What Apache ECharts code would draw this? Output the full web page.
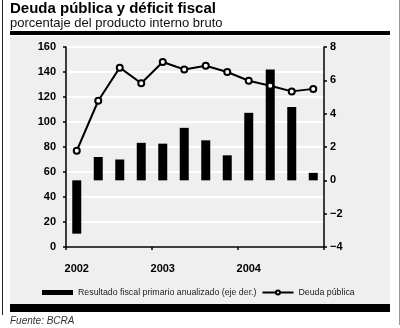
<!DOCTYPE html>
<html>
<head>
<meta charset="utf-8">
<script src="https://cdn.jsdelivr.net/npm/echarts@6/dist/echarts.min.js"></script>
<style>
html,body{margin:0;padding:0;background:#fff;}
#c{width:400px;height:328px;}
</style>
</head>
<body>
<div id="c"></div>
<script>
var quarters = ['2002-I','2002-II','2002-III','2002-IV','2003-I','2003-II','2003-III','2003-IV','2004-I','2004-II','2004-III','2004-IV'];
var deudaPublica = [77, 117, 143.5, 131, 148, 142, 145, 140, 133, 129, 124.5, 126.5];
var resultadoFiscal = [-3.2, 1.4, 1.25, 2.25, 2.2, 3.15, 2.4, 1.5, 4.05, 6.65, 4.4, 0.45];
var leftTicks = {min: 0, max: 160, interval: 20};
var rightTicks = {min: -4, max: 8, interval: 2};

var FONT = '"Liberation Sans", Arial, Helvetica, sans-serif';
var chart = echarts.init(document.getElementById('c'), null, {renderer: 'canvas'});
chart.setOption({
  animation: false,
  textStyle: {fontFamily: FONT},
  title: {
    text: 'Deuda pública y déficit fiscal',
    subtext: 'porcentaje del producto interno bruto',
    left: 10, top: 1, padding: 0, itemGap: 1,
    textStyle: {fontFamily: FONT, fontSize: 15, fontWeight: 'bold', color: '#000'},
    subtextStyle: {fontFamily: FONT, fontSize: 13, color: '#111'}
  },
  graphic: [
    {type: 'rect', z: -10, shape: {x: 10, y: 36, width: 380, height: 268}, style: {fill: '#efefef'}, silent: true},
    {type: 'rect', shape: {x: 10, y: 31, width: 380, height: 4}, style: {fill: '#000'}, silent: true},
    {type: 'rect', shape: {x: 10, y: 304, width: 380, height: 8}, style: {fill: '#000'}, silent: true},
    {type: 'line', shape: {x1: 2.5, y1: 0, x2: 2.5, y2: 315}, style: {stroke: '#222', lineWidth: 1}, silent: true},
    {type: 'line', shape: {x1: 399.5, y1: 0, x2: 399.5, y2: 325}, style: {stroke: '#999', lineWidth: 1}, silent: true},
    {type: 'text', left: 10, top: 316, style: {text: 'Fuente: BCRA', font: 'italic 10px ' + FONT, fill: '#333'}, silent: true}
  ],
  legend: {
    left: 42, top: 288, padding: 0,
    itemWidth: 31, itemHeight: 5, itemGap: 5,
    textStyle: {fontFamily: FONT, fontSize: 8.8, color: '#222'},
    data: [
      {name: 'Resultado fiscal primario anualizado (eje der.)', icon: 'rect'},
      {name: 'Deuda pública'}
    ]
  },
  grid: {left: 66, right: 76, top: 47, bottom: 81},
  xAxis: {
    type: 'category',
    data: quarters,
    boundaryGap: true,
    axisLine: {show: true, lineStyle: {color: '#000', width: 1.5}},
    axisTick: {show: true, interval: 3, length: 3, lineStyle: {color: '#000', width: 1.5}},
    axisLabel: {
      interval: 3, margin: 16,
      fontFamily: FONT, fontSize: 11, fontWeight: 'bold', color: '#000',
      formatter: function (v) { return v.split('-')[0]; }
    },
    splitLine: {show: false}
  },
  yAxis: [
    {
      type: 'value', position: 'left',
      min: leftTicks.min, max: leftTicks.max, interval: leftTicks.interval,
      axisLine: {show: true, lineStyle: {color: '#000', width: 1.5}},
      axisTick: {show: true, length: 3, lineStyle: {color: '#000', width: 1.5}},
      axisLabel: {margin: 10, fontFamily: FONT, fontSize: 11, fontWeight: 'bold', color: '#000'},
      splitLine: {show: true, lineStyle: {color: '#fff', width: 2}}
    },
    {
      type: 'value', position: 'right',
      min: rightTicks.min, max: rightTicks.max, interval: rightTicks.interval,
      axisLine: {show: true, lineStyle: {color: '#000', width: 1.5}},
      axisTick: {show: true, length: 3, lineStyle: {color: '#000', width: 1.5}},
      axisLabel: {margin: 6, fontFamily: FONT, fontSize: 11, fontWeight: 'bold', color: '#000',
        formatter: function (v) { return String(v).replace('-', '\u2212'); }},
      splitLine: {show: false}
    }
  ],
  series: [
    {
      name: 'Resultado fiscal primario anualizado (eje der.)',
      type: 'bar', yAxisIndex: 1,
      data: resultadoFiscal,
      barWidth: 9,
      itemStyle: {color: '#000'}
    },
    {
      name: 'Deuda pública',
      type: 'line', yAxisIndex: 0,
      data: deudaPublica,
      symbol: 'circle', symbolSize: 6,
      lineStyle: {color: '#000', width: 2},
      itemStyle: {color: '#fff', borderColor: '#000', borderWidth: 2}
    }
  ]
});
</script>
</body>
</html>
